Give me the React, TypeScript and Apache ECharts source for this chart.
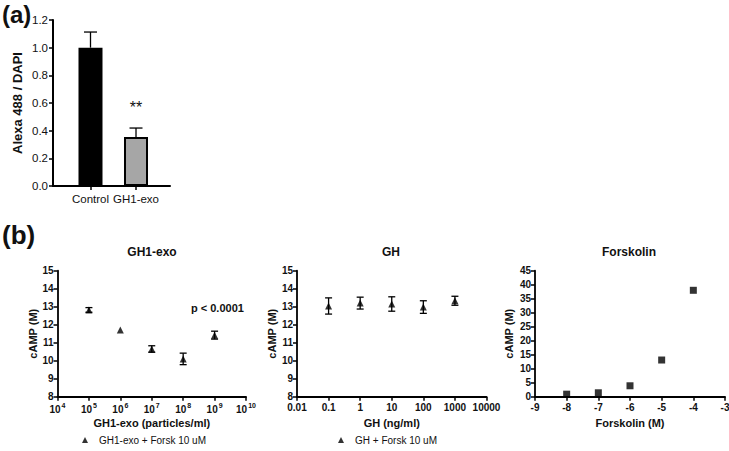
import React, { useEffect, useRef } from "react";
import * as echarts from "echarts";

// Panel (a)
const barCategories = ["Control", "GH1-exo"];
const barMeans = [1.0, 0.354];
const barErrors = [0.113, 0.065];
const barColors = ["#000000", "#a6a6a6"];
const barYTicks = { min: 0, max: 1.2, interval: 0.2 };

// Panel (b) GH1-exo
const gh1Doses = [1e5, 1e6, 1e7, 1e8, 1e9];
const gh1Means = [12.82, 11.7, 10.65, 10.1, 11.42];
const gh1Errors = [0.13, 0, 0.18, 0.32, 0.22];

// Panel (b) GH
const ghDoses = [0.1, 1, 10, 100, 1000];
const ghMeans = [13.04, 13.2, 13.15, 12.98, 13.33];
const ghErrors = [0.45, 0.33, 0.4, 0.35, 0.25];

// Panel (b) Forskolin
const forskLogM = [-8, -7, -6, -5, -4];
const forskMeans = [0.9, 1.4, 3.9, 13.1, 38.0];

const FONT = "Liberation Sans, Arial, sans-serif";

function errorRender(capHalf: number, lowerToo: boolean, color: string) {
  return (params: any, api: any) => {
    const x = api.value(0);
    const lo = api.value(1);
    const hi = api.value(2);
    if (hi === lo) return null;
    const pLo = api.coord([x, lo]);
    const pHi = api.coord([x, hi]);
    const style = { stroke: color, lineWidth: 1.3, fill: null };
    const children: any[] = [
      { type: "line", shape: { x1: pLo[0], y1: pLo[1], x2: pHi[0], y2: pHi[1] }, style },
      { type: "line", shape: { x1: pHi[0] - capHalf, y1: pHi[1], x2: pHi[0] + capHalf, y2: pHi[1] }, style },
    ];
    if (lowerToo) {
      children.push({
        type: "line",
        shape: { x1: pLo[0] - capHalf, y1: pLo[1], x2: pLo[0] + capHalf, y2: pLo[1] },
        style,
      });
    }
    return { type: "group", children };
  };
}

const axisLineB = { show: true, onZero: false, lineStyle: { color: "#000", width: 1.8 } };
const tickB = { show: true, length: 4, lineStyle: { color: "#000", width: 1.5 } };
const labelB = { fontFamily: FONT, fontSize: 10, fontWeight: "bold" as const, color: "#111" };
const nameB = { fontFamily: FONT, fontSize: 11, fontWeight: "bold" as const, color: "#111" };

export default function App() {
  const ref = useRef<HTMLDivElement>(null);
  useEffect(() => {
    if (!ref.current) return;
    const chart = echarts.init(ref.current, undefined, { renderer: "svg" });

    const supFmt = (v: number) => {
      const e = Math.round(Math.log10(v));
      return `{b|10}{s|${e}}`;
    };
    const decFmt = (v: number) => {
      const e = Math.round(Math.log10(v));
      return e < 0 ? (Math.pow(10, e)).toFixed(-e) : String(Math.round(Math.pow(10, e)));
    };

    const option: any = {
      animation: false,
      backgroundColor: "#fff",
      grid: [
        { left: 53, top: 20, width: 117, height: 166, outerBoundsMode: "none" },
        { left: 57.5, top: 270.7, width: 188.5, height: 126, outerBoundsMode: "none" },
        { left: 297, top: 270.7, width: 189.5, height: 126, outerBoundsMode: "none" },
        { left: 535, top: 270.7, width: 190, height: 126, outerBoundsMode: "none" },
      ],
      xAxis: [
        {
          gridIndex: 0,
          type: "value",
          min: -0.824,
          max: 1.747,
          axisLine: { show: true, onZero: false, lineStyle: { color: "#000", width: 2 } },
          axisTick: { show: true, length: 4, customValues: [0, 1], lineStyle: { color: "#000", width: 1.5 } },
          axisLabel: {
            customValues: [0, 1],
            formatter: (v: number) => barCategories[Math.round(v)] ?? "",
            fontFamily: FONT,
            fontSize: 11.5,
            color: "#111",
            margin: 7,
          },
          splitLine: { show: false },
        },
        {
          gridIndex: 1,
          type: "log",
          logBase: 10,
          min: 1e4,
          max: 1e10,
          axisLine: axisLineB,
          axisTick: tickB,
          minorTick: { show: false },
          splitLine: { show: false },
          axisLabel: {
            formatter: supFmt,
            margin: 5,
            rich: {
              b: { ...labelB, fontSize: 10, lineHeight: 13, verticalAlign: "bottom" },
              s: { ...labelB, fontSize: 7, lineHeight: 13, verticalAlign: "top", padding: [0, 0, 0, 1] },
            },
          },
          name: "GH1-exo (particles/ml)",
          nameLocation: "middle",
          nameGap: 21,
          nameTextStyle: nameB,
        },
        {
          gridIndex: 2,
          type: "log",
          logBase: 10,
          min: 0.01,
          max: 10000,
          axisLine: axisLineB,
          axisTick: tickB,
          minorTick: { show: false },
          splitLine: { show: false },
          axisLabel: { ...labelB, formatter: decFmt, margin: 6 },
          name: "GH (ng/ml)",
          nameLocation: "middle",
          nameGap: 21,
          nameTextStyle: nameB,
        },
        {
          gridIndex: 3,
          type: "value",
          min: -9,
          max: -3,
          interval: 1,
          axisLine: axisLineB,
          axisTick: tickB,
          splitLine: { show: false },
          axisLabel: { ...labelB, margin: 6 },
          name: "Forskolin (M)",
          nameLocation: "middle",
          nameGap: 21,
          nameTextStyle: nameB,
        },
      ],
      yAxis: [
        {
          gridIndex: 0,
          type: "value",
          min: barYTicks.min,
          max: barYTicks.max,
          interval: barYTicks.interval,
          axisLine: { show: true, onZero: false, lineStyle: { color: "#000", width: 2 } },
          axisTick: { show: true, length: 4, lineStyle: { color: "#000", width: 1.5 } },
          splitLine: { show: false },
          axisLabel: {
            formatter: (v: number) => v.toFixed(1),
            fontFamily: FONT,
            fontSize: 11.5,
            color: "#111",
            margin: 5,
          },
          name: "Alexa 488 / DAPI",
          nameLocation: "middle",
          nameGap: 29,
          nameTextStyle: { fontFamily: FONT, fontSize: 13, fontWeight: "bold", color: "#111" },
        },
        ...[1, 2].map((gi) => ({
          gridIndex: gi,
          type: "value",
          min: 8,
          max: 15,
          interval: 1,
          axisLine: axisLineB,
          axisTick: tickB,
          splitLine: { show: false },
          axisLabel: { ...labelB, margin: 4 },
          name: "cAMP (M)",
          nameLocation: "middle",
          nameGap: 17,
          nameTextStyle: nameB,
        })),
        {
          gridIndex: 3,
          type: "value",
          min: 0,
          max: 45,
          interval: 5,
          axisLine: axisLineB,
          axisTick: tickB,
          splitLine: { show: false },
          axisLabel: { ...labelB, margin: 4 },
          name: "cAMP (M)",
          nameLocation: "middle",
          nameGap: 21,
          nameTextStyle: nameB,
        },
      ],
      legend: [
        {
          data: ["GH1-exo + Forsk 10 uM"],
          left: 77,
          top: 430,
          icon: "triangle",
          itemWidth: 6,
          itemHeight: 6,
          textStyle: { fontFamily: FONT, fontSize: 10, color: "#111", padding: [0, 0, 0, 6] },
        },
        {
          data: ["GH + Forsk 10 uM"],
          left: 333,
          top: 430,
          icon: "triangle",
          itemWidth: 6,
          itemHeight: 6,
          textStyle: { fontFamily: FONT, fontSize: 10, color: "#111", padding: [0, 0, 0, 6] },
        },
      ],
      graphic: [
        { type: "text", left: 2, top: 2, style: { text: "(a)", font: `bold 24px ${FONT}`, fill: "#111" } },
        { type: "text", left: 2, top: 222, style: { text: "(b)", font: `bold 26px ${FONT}`, fill: "#111" } },
        { type: "text", x: 136, y: 107, style: { text: "**", font: `16px ${FONT}`, fill: "#111", align: "center", verticalAlign: "middle" } },
        { type: "text", x: 191, y: 308, style: { text: "p < 0.0001", font: `bold 11px ${FONT}`, fill: "#111", verticalAlign: "middle" } },
        { type: "text", x: 152, y: 252, style: { text: "GH1-exo", font: `bold 12px ${FONT}`, fill: "#111", align: "center", verticalAlign: "middle" } },
        { type: "text", x: 391, y: 252, style: { text: "GH", font: `bold 12px ${FONT}`, fill: "#111", align: "center", verticalAlign: "middle" } },
        { type: "text", x: 629, y: 252, style: { text: "Forskolin", font: `bold 12px ${FONT}`, fill: "#111", align: "center", verticalAlign: "middle" } },
      ],
      series: [
        {
          type: "bar",
          xAxisIndex: 0,
          yAxisIndex: 0,
          barWidth: 24,
          data: barMeans.map((m, i) => ({
            value: [i, m],
            itemStyle: { color: barColors[i], borderColor: "#000", borderWidth: 2 },
          })),
        },
        {
          type: "custom",
          xAxisIndex: 0,
          yAxisIndex: 0,
          renderItem: errorRender(6.5, false, "#000"),
          data: barMeans.map((m, i) => [i, m, m + barErrors[i]]),
          z: 5,
        },
        {
          name: "GH1-exo + Forsk 10 uM",
          type: "scatter",
          xAxisIndex: 1,
          yAxisIndex: 1,
          symbol: "triangle",
          symbolSize: 7,
          itemStyle: { color: "#000" },
          data: gh1Doses.map((d, i) => [d, gh1Means[i]]),
        },
        {
          type: "custom",
          xAxisIndex: 1,
          yAxisIndex: 1,
          renderItem: errorRender(3.5, true, "#000"),
          data: gh1Doses.map((d, i) => [d, gh1Means[i] - gh1Errors[i], gh1Means[i] + gh1Errors[i]]),
        },
        {
          name: "GH + Forsk 10 uM",
          type: "scatter",
          xAxisIndex: 2,
          yAxisIndex: 2,
          symbol: "triangle",
          symbolSize: 7,
          itemStyle: { color: "#000" },
          data: ghDoses.map((d, i) => [d, ghMeans[i]]),
        },
        {
          type: "custom",
          xAxisIndex: 2,
          yAxisIndex: 2,
          renderItem: errorRender(3.5, true, "#000"),
          data: ghDoses.map((d, i) => [d, ghMeans[i] - ghErrors[i], ghMeans[i] + ghErrors[i]]),
        },
        {
          name: "Forskolin",
          type: "scatter",
          xAxisIndex: 3,
          yAxisIndex: 3,
          symbol: "rect",
          symbolSize: 7,
          itemStyle: { color: "#000" },
          data: forskLogM.map((d, i) => [d, forskMeans[i]]),
        },
      ],
    };
    chart.setOption(option);
    return () => chart.dispose();
  }, []);
  return <div ref={ref} style={{ width: 729, height: 451, position: "absolute", left: 0, top: 0 }} />;
}
